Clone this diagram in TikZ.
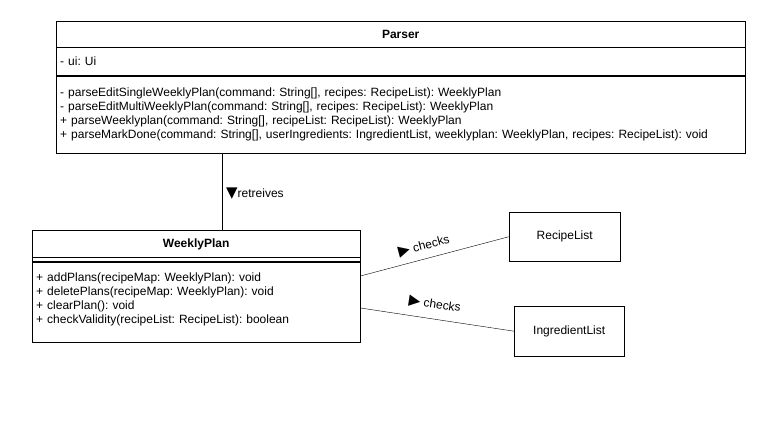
\documentclass[tikz,border=0pt]{standalone}
\usepackage{fontspec}
\setmainfont{Liberation Sans}
\newfontfamily\symfont{DejaVu Sans}
\usetikzlibrary{positioning}
\frenchspacing

\begin{document}
\begin{tikzpicture}[x=1pt,y=-1pt,
	every node/.style={font=\fontsize{12}{14}\selectfont},
	classhead/.style={draw,rectangle,anchor=north west,inner sep=0pt,font=\fontsize{12}{14}\selectfont\bfseries},
	members/.style={draw,rectangle,anchor=north west,align=left,inner xsep=4pt,inner ysep=0pt},
	plainbox/.style={draw,rectangle,anchor=north west,inner sep=0pt},
	edgelabel/.style={sloped,above=5pt,inner sep=1pt}]
				\useasboundingbox (0,0) rectangle (778,430);
				%class boxes placed by hand, compartments stacked under the heads
				\node[classhead,minimum width=689pt,minimum height=26pt] (phead) at (56,21){Parser};
				\node[members,text width=681pt,minimum height=28pt] (pattr) at (phead.south west){- ui: Ui};
				\node[members,text width=681pt,minimum height=77pt] (pmeth) at (pattr.south west){%
					- parseEditSingleWeeklyPlan(command: String[], recipes: RecipeList): WeeklyPlan\\
					- parseEditMultiWeeklyPlan(command: String[], recipes: RecipeList): WeeklyPlan\\
					+ parseWeeklyplan(command: String[], recipeList: RecipeList): WeeklyPlan\\
					+ parseMarkDone(command: String[], userIngredients: IngredientList, weeklyplan: WeeklyPlan, recipes: RecipeList): void};

				\node[classhead,minimum width=328pt,minimum height=27pt,text depth=1pt] (whead) at (32,230){WeeklyPlan};
				\node[plainbox,minimum width=328pt,minimum height=4pt] (wattr) at (whead.south west){};
				\node[members,text width=320pt,minimum height=80pt,text depth=49pt] (wmeth) at (wattr.south west){%
					+ addPlans(recipeMap: WeeklyPlan): void\\
					+ deletePlans(recipeMap: WeeklyPlan): void\\
					+ clearPlan(): void\\
					+ checkValidity(recipeList: RecipeList): boolean};

				\node[plainbox,minimum width=111pt,minimum height=49pt] (recipes) at (509,212){RecipeList};
				\node[plainbox,minimum width=110pt,minimum height=50pt] (ingredients) at (514,306){IngredientList};

				%% associations
				\coordinate (r) at (222,0);
				\draw (pmeth.south -| r)--(whead.north -| r);
				\node[anchor=west,inner sep=0pt] (lret) at (226,194){{\symfont\fontsize{15}{14}\selectfont ▼}retreives};
				\draw ([yshift=26pt]wmeth.east)--node[edgelabel,pos=0.45,above=6pt] (lrec){{\symfont\fontsize{15}{14}\selectfont ▶} checks} (recipes.west);
				\draw ([yshift=-6pt]wmeth.east)--node[edgelabel,pos=0.47,above=8pt] (ling){{\symfont\fontsize{15}{14}\selectfont ▶} checks} (ingredients.west);
\end{tikzpicture}
\end{document}
